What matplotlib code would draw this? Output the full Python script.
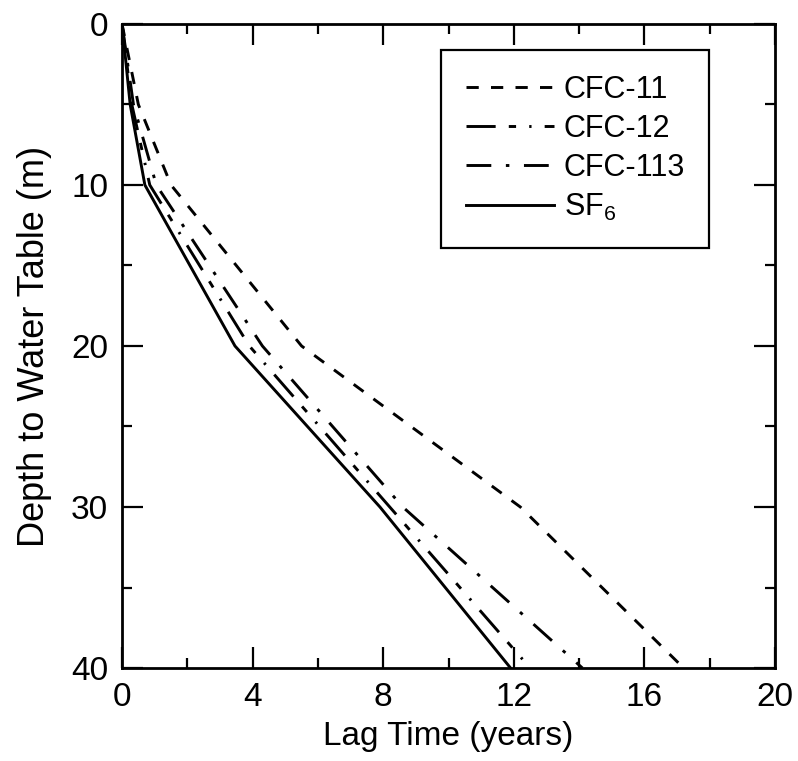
import matplotlib
matplotlib.use("Agg")
import matplotlib.pyplot as plt
from matplotlib.ticker import MultipleLocator

plt.rcParams['font.family'] = ['Liberation Sans', 'DejaVu Sans']
plt.rcParams['mathtext.fontset'] = 'custom'
plt.rcParams['mathtext.rm'] = 'Liberation Sans'
plt.rcParams['mathtext.default'] = 'regular'

# Data
depth = [0, 5, 10, 20, 30, 40]
cfc11 = [0, 0.5, 1.5, 5.5, 12.2, 17.2]
cfc12 = [0, 0.3, 0.85, 3.9, 8.2, 12.5]
cfc113 = [0, 0.35, 1.05, 4.3, 8.6, 14.1]
sf6 = [0, 0.25, 0.7, 3.46, 7.9, 11.9]
labels = ["CFC-11", "CFC-12", "CFC-113", "SF$_6$"]
xticks = [0, 4, 8, 12, 16, 20]
yticks = [0, 10, 20, 30, 40]

fig = plt.figure(figsize=(7.98, 7.61), dpi=100)
ax = fig.add_axes([0.1529, 0.1222, 0.8183, 0.8463])

lw = 2.1
ax.plot(cfc11, depth, color='black', lw=lw, dashes=(4.2, 4.2), label=labels[0])
ax.plot(cfc12, depth, color='black', lw=lw, dashes=(10, 4.5, 2.5, 4.5, 0.8, 4.5), label=labels[1])
ax.plot(cfc113, depth, color='black', lw=lw, dashes=(8.5, 5, 1.2, 5), label=labels[2])
ax.plot(sf6, depth, color='black', lw=lw, label=labels[3])

ax.set_xlim(0, 20)
ax.set_ylim(40, 0)
ax.set_xticks(xticks)
ax.set_yticks(yticks)
ax.xaxis.set_minor_locator(MultipleLocator(2))
ax.yaxis.set_minor_locator(MultipleLocator(5))
ax.tick_params(which='both', direction='in', top=True, right=True, width=1.6)
ax.tick_params(axis='x', labelsize=24)
ax.tick_params(axis='y', labelsize=24)
ax.tick_params(which='major', length=15, pad=10)
ax.tick_params(which='minor', length=7)
for s in ax.spines.values():
    s.set_linewidth(2.0)

ax.set_xlabel("Lag Time (years)", fontsize=24, labelpad=6)
ax.set_ylabel("Depth to Water Table (m)", fontsize=26, labelpad=14)

leg = ax.legend(loc='upper right', bbox_to_anchor=(0.923, 0.983), fontsize=22,
                frameon=True, fancybox=False, edgecolor='black', framealpha=1,
                handlelength=2.9, handletextpad=0.3, labelspacing=0.3,
                borderpad=0.8)
leg.get_frame().set_linewidth(1.6)

fig.savefig("out.png", dpi=100)
